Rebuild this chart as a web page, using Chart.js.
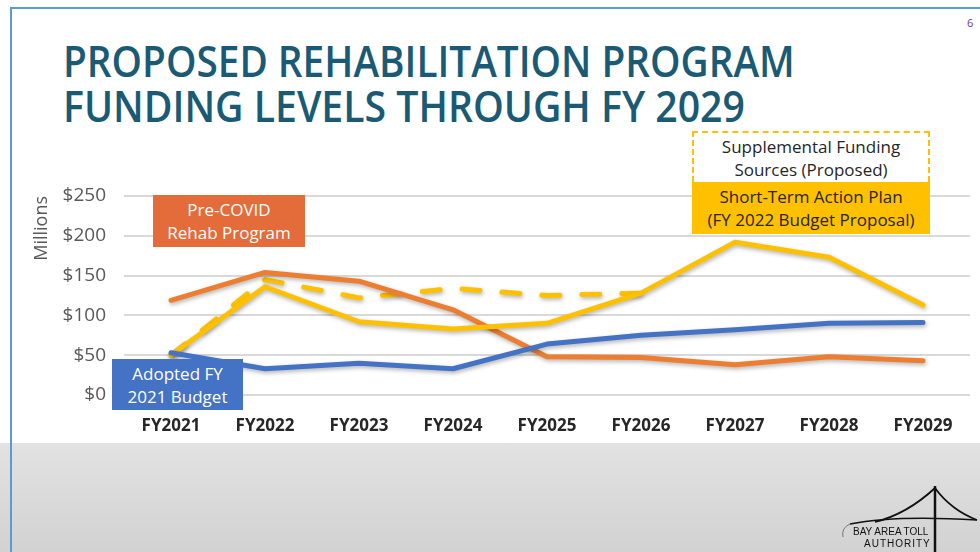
<!DOCTYPE html>
<html>
<head>
<meta charset="utf-8">
<script src="https://cdn.jsdelivr.net/npm/chart.js@4.4.1/dist/chart.umd.min.js"></script>
<style>
  body { margin: 0; width: 980px; height: 552px; overflow: hidden; position: relative; background: #fff; font-family: "Open Sans", sans-serif; }
  .footer { position: absolute; left: 0; top: 443px; width: 980px; height: 109px; background: linear-gradient(#e2e2e2, #d2d2d2); }
  .frame-top { position: absolute; left: 10px; top: 7px; width: 970px; height: 2px; background: #5b9bd5; }
  .frame-left { position: absolute; left: 10px; top: 7px; width: 2px; height: 545px; background: #5b9bd5; }
  .title { position: absolute; left: 63px; font-weight: 600; font-size: 43px; line-height: 45px; color: #1b5a74; white-space: nowrap; transform-origin: left top; }
  .pagenum { position: absolute; left: 967px; top: 15px; font-size: 11px; color: #7030a0; }
  canvas { position: absolute; left: 0; top: 0; }
  .note { position: absolute; box-sizing: border-box; display: flex; align-items: center; justify-content: center; text-align: center; font-size: 17px; line-height: 23px; }
</style>
</head>
<body>
<div class="footer"></div>
<div class="frame-top"></div>
<div class="frame-left"></div>
<div class="pagenum">6</div>
<div class="title" id="t1" style="top:38px">PROPOSED REHABILITATION PROGRAM</div>
<div class="title" id="t2" style="top:83px">FUNDING LEVELS THROUGH FY 2029</div>

<canvas id="funding" width="980" height="552"></canvas>

<div class="note" style="left:153px;top:195px;width:152px;height:52px;background:#e46c3a;color:#fff;">Pre-COVID<br>Rehab Program</div>
<div class="note" style="left:112px;top:359px;width:131px;height:51px;background:#4472c4;color:#fff;">Adopted FY<br>2021 Budget</div>
<div class="note" style="left:692px;top:131px;width:238px;height:51px;background:#fff;color:#262626;border:2px dashed #ffc000;border-bottom:none;">Supplemental Funding<br>Sources (Proposed)</div>
<div class="note" style="left:692px;top:182px;width:238px;height:52px;background:#ffc000;color:#262626;">Short-Term Action Plan<br>(FY 2022 Budget Proposal)</div>

<svg style="position:absolute;left:835px;top:480px" width="145" height="72">
  <path d="M100 6 L100 72" stroke="#111" stroke-width="2.5" fill="none"/>
  <path d="M100 8 Q72 34 40 42" stroke="#111" stroke-width="1.8" fill="none"/>
  <path d="M100 8 Q116 30 142 40" stroke="#111" stroke-width="1.8" fill="none"/>
  <path d="M15 44 Q60 35 142 40" stroke="#111" stroke-width="1.4" fill="none"/>
  <path d="M15 44 Q6 48 8 57" stroke="#777" stroke-width="1" fill="none"/>
  <text x="18" y="55" font-family="Liberation Sans, sans-serif" font-size="10" fill="#111">BAY AREA TOLL</text>
  <text x="29" y="67" font-family="Liberation Sans, sans-serif" font-size="10" fill="#111" letter-spacing="1">AUTHORITY</text>
</svg>

<script>
// fit the condensed title lines to their widths on the slide
[['t1', 732], ['t2', 682]].forEach(([id, w]) => {
    const el = document.getElementById(id);
    el.style.transform = 'scaleX(' + (w / el.offsetWidth) + ')';
});

const fiscalYears = ['FY2021', 'FY2022', 'FY2023', 'FY2024', 'FY2025', 'FY2026', 'FY2027', 'FY2028', 'FY2029'];
const preCovidRehab = [119, 154, 143, 107, 48, 47, 38, 48, 43];
const adoptedBudget = [53, 33, 40, 33, 64, 75, 82, 90, 91];
const shortTermPlan = [50, 136, 92, 83, 90, 128, 192, 173, 113];
const supplementalSources = [50, 145, 122, 134, 125, 128, null, null, null];
const yTicks = [0, 50, 100, 150, 200, 250];

// soft drop shadow under the lines, like the slide
const lineShadow = {
    id: 'lineShadow',
    beforeDatasetsDraw(chart) {
        const c = chart.ctx;
        c.save();
        c.shadowColor = 'rgba(0,0,0,0.3)';
        c.shadowBlur = 4;
        c.shadowOffsetX = 1;
        c.shadowOffsetY = 2;
    },
    afterDatasetsDraw(chart) {
        chart.ctx.restore();
    }
};

const lineStyle = {
    borderWidth: 5,
    pointRadius: 0,
    tension: 0,
    borderCapStyle: 'round',
    borderJoinStyle: 'round',
    fill: false
};

new Chart(document.getElementById('funding'), {
    type: 'line',
    data: {
        labels: fiscalYears,
        datasets: [
            { ...lineStyle, label: 'Supplemental Funding Sources (Proposed)', data: supplementalSources, borderColor: '#ffc000', borderDash: [18, 22], order: 4 },
            { ...lineStyle, label: 'Pre-COVID Rehab Program', data: preCovidRehab, borderColor: '#ed7d31', order: 3 },
            { ...lineStyle, label: 'Short-Term Action Plan', data: shortTermPlan, borderColor: '#ffc000', order: 2 },
            { ...lineStyle, label: 'Adopted FY 2021 Budget', data: adoptedBudget, borderColor: '#4472c4', order: 1 }
        ]
    },
    options: {
        responsive: false,
        devicePixelRatio: 1,
        animation: false,
        layout: { padding: { top: 196, right: 10, bottom: 107, left: 0 } },
        plugins: { legend: { display: false }, tooltip: { enabled: false } },
        scales: {
            x: {
                offset: true,
                grid: { display: false },
                border: { display: false },
                ticks: { color: '#262626', padding: 13, font: { family: 'Open Sans', size: 17, weight: 'bold' } },
                afterFit: s => { s.height = 50; }
            },
            y: {
                min: 0,
                max: 250,
                afterBuildTicks: s => { s.ticks = yTicks.map(v => ({ value: v })); },
                grid: { color: '#d9d9d9', lineWidth: 2, drawTicks: false },
                border: { display: false },
                ticks: { color: '#595959', padding: 18, font: { family: 'Open Sans', size: 19 }, callback: v => '$' + v },
                title: { display: true, text: 'Millions', align: 'end', color: '#595959', padding: { top: 31, bottom: 0 }, font: { family: 'Open Sans', size: 18 } },
                afterFit: s => { s.width = 124; }
            }
        }
    },
    plugins: [lineShadow]
});
</script>
</body>
</html>
